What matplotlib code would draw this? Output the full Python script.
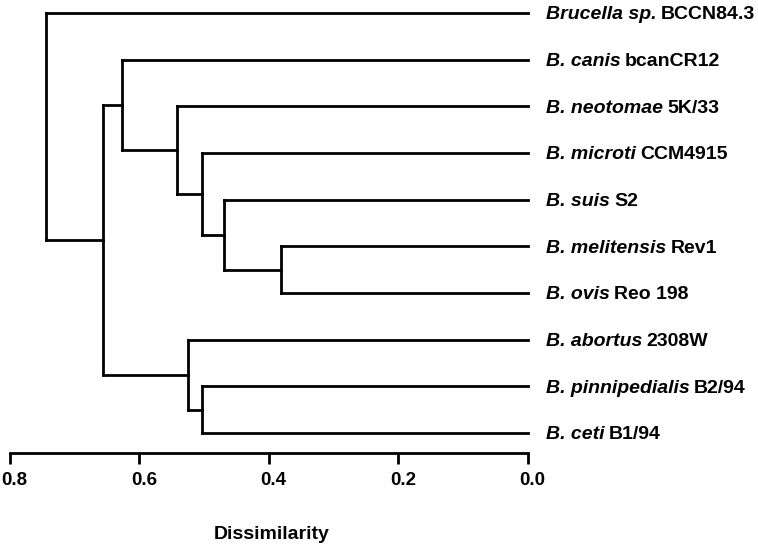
import matplotlib
matplotlib.use("Agg")
import matplotlib.pyplot as plt
from matplotlib.transforms import ScaledTranslation

# ---- data ----
species = ["Brucella sp.", "B. canis", "B. neotomae", "B. microti", "B. suis",
           "B. melitensis", "B. ovis", "B. abortus", "B. pinnipedialis", "B. ceti"]
strains = ["BCCN84.3", "bcanCR12", "5K/33", "CCM4915", "S2",
           "Rev1", "Reo 198", "2308W", "B2/94", "B1/94"]
# merges: (child_a, child_b, height); leaves are 0..9, new clusters numbered 10, 11, ...
merge_a = [5, 4, 3, 2, 1, 8, 7, 14, 0]
merge_b = [6, 10, 11, 12, 13, 9, 15, 16, 17]
merge_h = [0.381, 0.469, 0.503, 0.542, 0.626, 0.502, 0.524, 0.656, 0.744]
xticks = [0.8, 0.6, 0.4, 0.2, 0.0]
xlabel = "Dissimilarity"

plt.rcParams['font.family'] = ['Liberation Sans', 'DejaVu Sans']

fig = plt.figure(figsize=(7.58, 5.5), dpi=100)
ax = fig.add_axes([9.5 / 758, 97 / 550, 518 / 758, 451.7 / 550])

n = len(species)
ypos = {i: (n - 1 - i) for i in range(n)}
hpos = {i: 0.0 for i in range(n)}
lw = 2.0
for k, (a, b, h) in enumerate(zip(merge_a, merge_b, merge_h)):
    node = n + k
    ya, yb = ypos[a], ypos[b]
    ax.plot([hpos[a], h], [ya, ya], color='black', lw=lw, solid_capstyle='projecting', clip_on=False)
    ax.plot([hpos[b], h], [yb, yb], color='black', lw=lw, solid_capstyle='projecting', clip_on=False)
    ax.plot([h, h], [ya, yb], color='black', lw=lw, solid_capstyle='projecting', clip_on=False)
    ypos[node] = (ya + yb) / 2
    hpos[node] = h

ax.set_xlim(0.8, 0.0)
ax.set_ylim(-0.4286, 9.25)

for s in ['top', 'right', 'left']:
    ax.spines[s].set_visible(False)
ax.spines['bottom'].set_linewidth(lw)
ax.set_yticks([])
ax.set_xticks(xticks)
ax.set_xticklabels([f"{t:.1f}" for t in xticks], fontsize=13.5, fontweight='bold')
ax.tick_params(axis='x', direction='out', length=8, width=lw, pad=6)
shift = ScaledTranslation(5 / 100, 0, fig.dpi_scale_trans)
for lab in ax.get_xticklabels():
    lab.set_transform(lab.get_transform() + shift)
ax.set_xlabel(xlabel, fontsize=14, fontweight='bold', va='top')
ax.xaxis.set_label_coords(0.506, -0.1616)

# leaf labels: italic species + upright strain
label_x_px = 546
fig.canvas.draw()
renderer = fig.canvas.get_renderer()
inv = ax.transData.inverted()
for i in range(n):
    y = ypos[i]
    ydisp = ax.transData.transform((0, y))[1]
    x0 = inv.transform((label_x_px, ydisp))[0]
    t1 = ax.text(x0, y, species[i], fontsize=14, fontweight='bold', fontstyle='italic',
                 va='center_baseline', ha='left', clip_on=False)
    bb = t1.get_window_extent(renderer=renderer)
    x1 = inv.transform((bb.x1 + 4, ydisp))[0]
    ax.text(x1, y, strains[i], fontsize=14, fontweight='bold',
            va='center_baseline', ha='left', clip_on=False)

fig.savefig("out.png", dpi=100)
